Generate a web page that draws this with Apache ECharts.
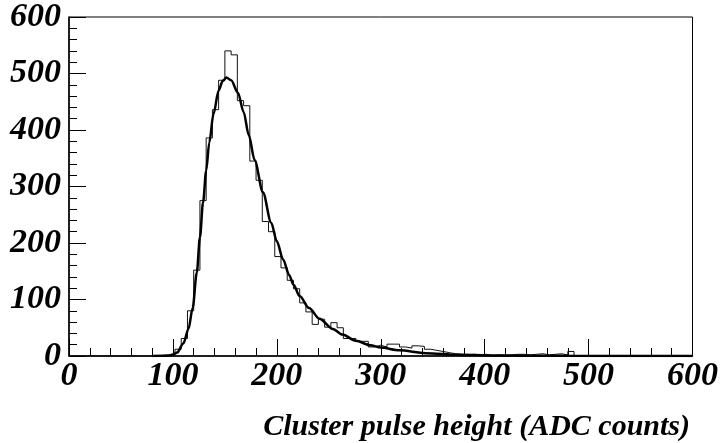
<!DOCTYPE html>
<html>
<head>
<meta charset="utf-8">
<script src="https://cdn.jsdelivr.net/npm/echarts@6/dist/echarts.min.js"></script>
<style>
html,body{margin:0;padding:0;background:#fff;}
#c{width:721px;height:443px;}
</style>
</head>
<body>
<div id="c"></div>
<script>
// Histogram: bin width 6 ADC counts, left edges 0..594
const binWidth = 6;
const binCounts = [
  0,0,0,0,0,0,0,0,0,0,          // 0-54
  0,0,0,0,1,2,5,12,31,80,       // 60-114
  152,275,386,436,488,540,533,452,443,345, // 120-174
  311,238,220,176,156,134,119,94,78,56,    // 180-234
  65,51,59,50,31,31,26,26,16,19,           // 240-294
  16,21,21,16,14,18,17,12,10,8,            // 300-354
  6,4,3,2,3,2,3,1,2,1,                     // 360-414
  2,3,3,2,3,4,2,3,4,2,                     // 420-474
  8,0,0,0,0,0,0,0,0,0,                     // 480-534
  0,0,0,0,0,0,0,0,0,0                      // 540-594
];
// Fit curve
const fitX = [80,92,97,100,104,110,115,119,123,126,129,132,135,139,144,148,151.5,156,162.6,168,173,178.6,186.6,194.6,200,206,212,216,222,231,241,254,263,276,290,300,318,343,375,420,480,540,600];
const fitY = [0,0.3,1,2,6,22,48,85,148,210,272,328,378,428,470,487,493,488,466,432,391,347,290,236,203,171,143,126,106,85,66,48,38,27,19,15,10,5,2,0.8,0.3,0.1,0];
const xTicks = [0,100,200,300,400,500,600];
const yTicks = [0,100,200,300,400,500,600];
const xTitle = 'Cluster pulse height (ADC counts)';

const histData = binCounts.map((v,i)=>[i*binWidth, v]);
histData.push([binCounts.length*binWidth, binCounts[binCounts.length-1]]);
const fitData = fitX.map((x,i)=>[x, fitY[i]]);

const font = '"Liberation Serif", "DejaVu Serif", serif';
const chart = echarts.init(document.getElementById('c'));
chart.setOption({
  animation:false,
  backgroundColor:'#fff',
  grid:{left:69,right:27,top:16,bottom:87,show:true,borderColor:'#000',borderWidth:1,backgroundColor:'transparent'},
  xAxis:{
    type:'value',min:xTicks[0],max:xTicks[xTicks.length-1],interval:100,
    axisLine:{show:true,onZero:false,lineStyle:{color:'#000',width:1.5}},
    axisTick:{show:true,inside:true,length:17,lineStyle:{color:'#000',width:1}},
    minorTick:{show:true,splitNumber:5,length:8,lineStyle:{color:'#000',width:1}},
    splitLine:{show:false},
    axisLabel:{color:'#000',fontFamily:font,fontStyle:'italic',fontWeight:'bold',fontSize:34,margin:3}
  },
  yAxis:{
    type:'value',min:yTicks[0],max:yTicks[yTicks.length-1],interval:100,
    axisLine:{show:true,onZero:false,lineStyle:{color:'#000',width:1.5}},
    axisTick:{show:true,inside:true,length:17,lineStyle:{color:'#000',width:1}},
    minorTick:{show:true,splitNumber:5,length:8,lineStyle:{color:'#000',width:1}},
    splitLine:{show:false},
    axisLabel:{color:'#000',fontFamily:font,fontStyle:'italic',fontWeight:'bold',fontSize:34,margin:8}
  },
  series:[
    {type:'line',data:histData,step:'end',showSymbol:false,symbol:'none',
     lineStyle:{color:'#111',width:1},z:2},
    {type:'line',data:fitData,smooth:0.3,smoothMonotone:'x',showSymbol:false,symbol:'none',
     lineStyle:{color:'#000',width:2.5},z:3}
  ],
  graphic:[{type:'text',right:31,top:412,style:{text:xTitle,font:'italic bold 30px "Liberation Serif"',fill:'#000'}}]
});
</script>
</body>
</html>
